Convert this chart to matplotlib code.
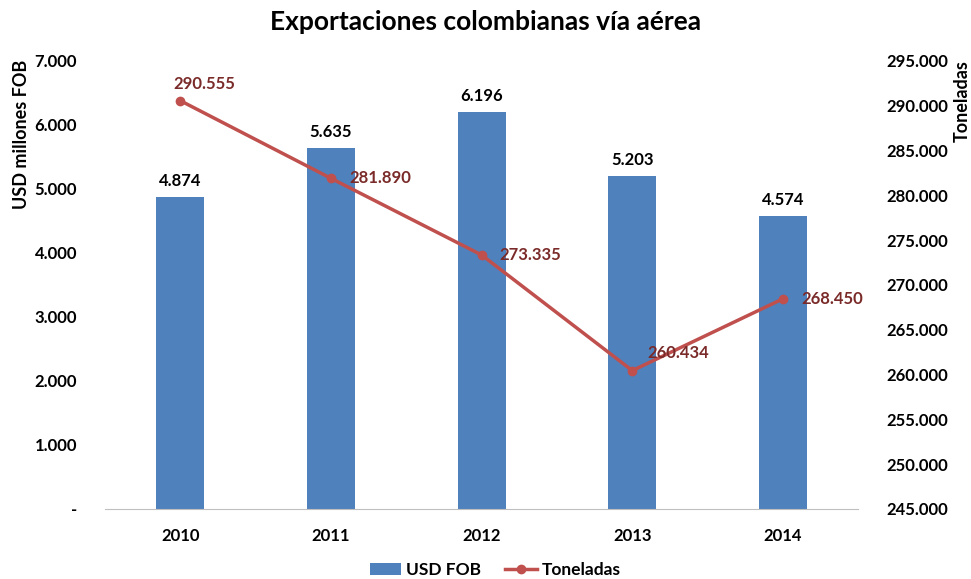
import matplotlib.pyplot as plt
from matplotlib.ticker import FuncFormatter

plt.rcParams['font.family'] = ['Lato', 'DejaVu Sans']
plt.rcParams['font.weight'] = 'bold'

years = ['2010', '2011', '2012', '2013', '2014']
usd_fob = [4874, 5635, 6196, 5203, 4574]
toneladas = [290555, 281890, 273335, 260434, 268450]

def fmt_thousands(v):
    return f"{int(round(v)):,}".replace(',', '.')

fig = plt.figure(figsize=(9.71, 5.79), dpi=100)
ax = fig.add_axes([0.108, 0.121, 0.776, 0.774])
ax2 = ax.twinx()

x = list(range(len(years)))
bar_color = '#4F81BD'
line_color = '#C0504D'
label_color = '#7A2B29'

bars = ax.bar(x, usd_fob, width=0.32, color=bar_color, label='USD FOB', zorder=2)
ax.set_ylim(0, 7000)
ax.set_xlim(-0.5, 4.5)
ax.set_yticks(range(0, 7001, 1000))
ax.yaxis.set_major_formatter(FuncFormatter(lambda v, p: '-' if v == 0 else fmt_thousands(v)))
ax.set_xticks(x)
ax.set_xticklabels(years)
for xi, v in zip(x, usd_fob):
    ax.annotate(fmt_thousands(v), (xi, v), xytext=(0, 6), textcoords='offset points',
                ha='center', va='bottom', fontsize=12, fontweight='bold', color='black')

line, = ax2.plot(x, toneladas, color=line_color, lw=2.5, marker='o', markersize=6, label='Toneladas', zorder=3)
ax2.set_ylim(245000, 295000)
ax2.set_yticks(range(245000, 295001, 5000))
ax2.yaxis.set_major_formatter(FuncFormatter(lambda v, p: fmt_thousands(v)))
offsets = [(-5, 6, 'left', 'bottom'), (13, 0, 'left', 'center'), (13, 0, 'left', 'center'),
           (11, 13, 'left', 'center'), (13, 0, 'left', 'center')]
for (xi, v), (dx, dy, ha, va) in zip(zip(x, toneladas), offsets):
    ax2.annotate(fmt_thousands(v), (xi, v), xytext=(dx, dy), textcoords='offset points',
                 ha=ha, va=va, fontsize=12, fontweight='bold', color=label_color)

for a in (ax, ax2):
    for s in ('top', 'left', 'right'):
        a.spines[s].set_visible(False)
    a.tick_params(length=0, labelsize=12)
ax.spines['bottom'].set_color('#BFBFBF')
ax2.spines['bottom'].set_visible(False)
ax.tick_params(axis='y', pad=20)
ax.tick_params(axis='x', pad=14)
ax2.tick_params(axis='y', pad=20)

fig.text(22 / 971, 1 - 60 / 579, 'USD millones FOB', rotation=90, ha='center', va='top',
         fontsize=13, fontweight='bold')
fig.text(962 / 971, 1 - 60 / 579, 'Toneladas', rotation=90, ha='center', va='top',
         fontsize=13, fontweight='bold')

fig.suptitle('Exportaciones colombianas vía aérea', fontsize=19, fontweight='bold', y=0.982)

fig.legend([bars, line], ['USD FOB', 'Toneladas'], loc='lower center', ncol=2,
           frameon=False, fontsize=12.5, bbox_to_anchor=(0.51, -0.025), handlelength=1.8,
           handletextpad=0.3, columnspacing=1.4)

fig.savefig('out.png', dpi=100)
